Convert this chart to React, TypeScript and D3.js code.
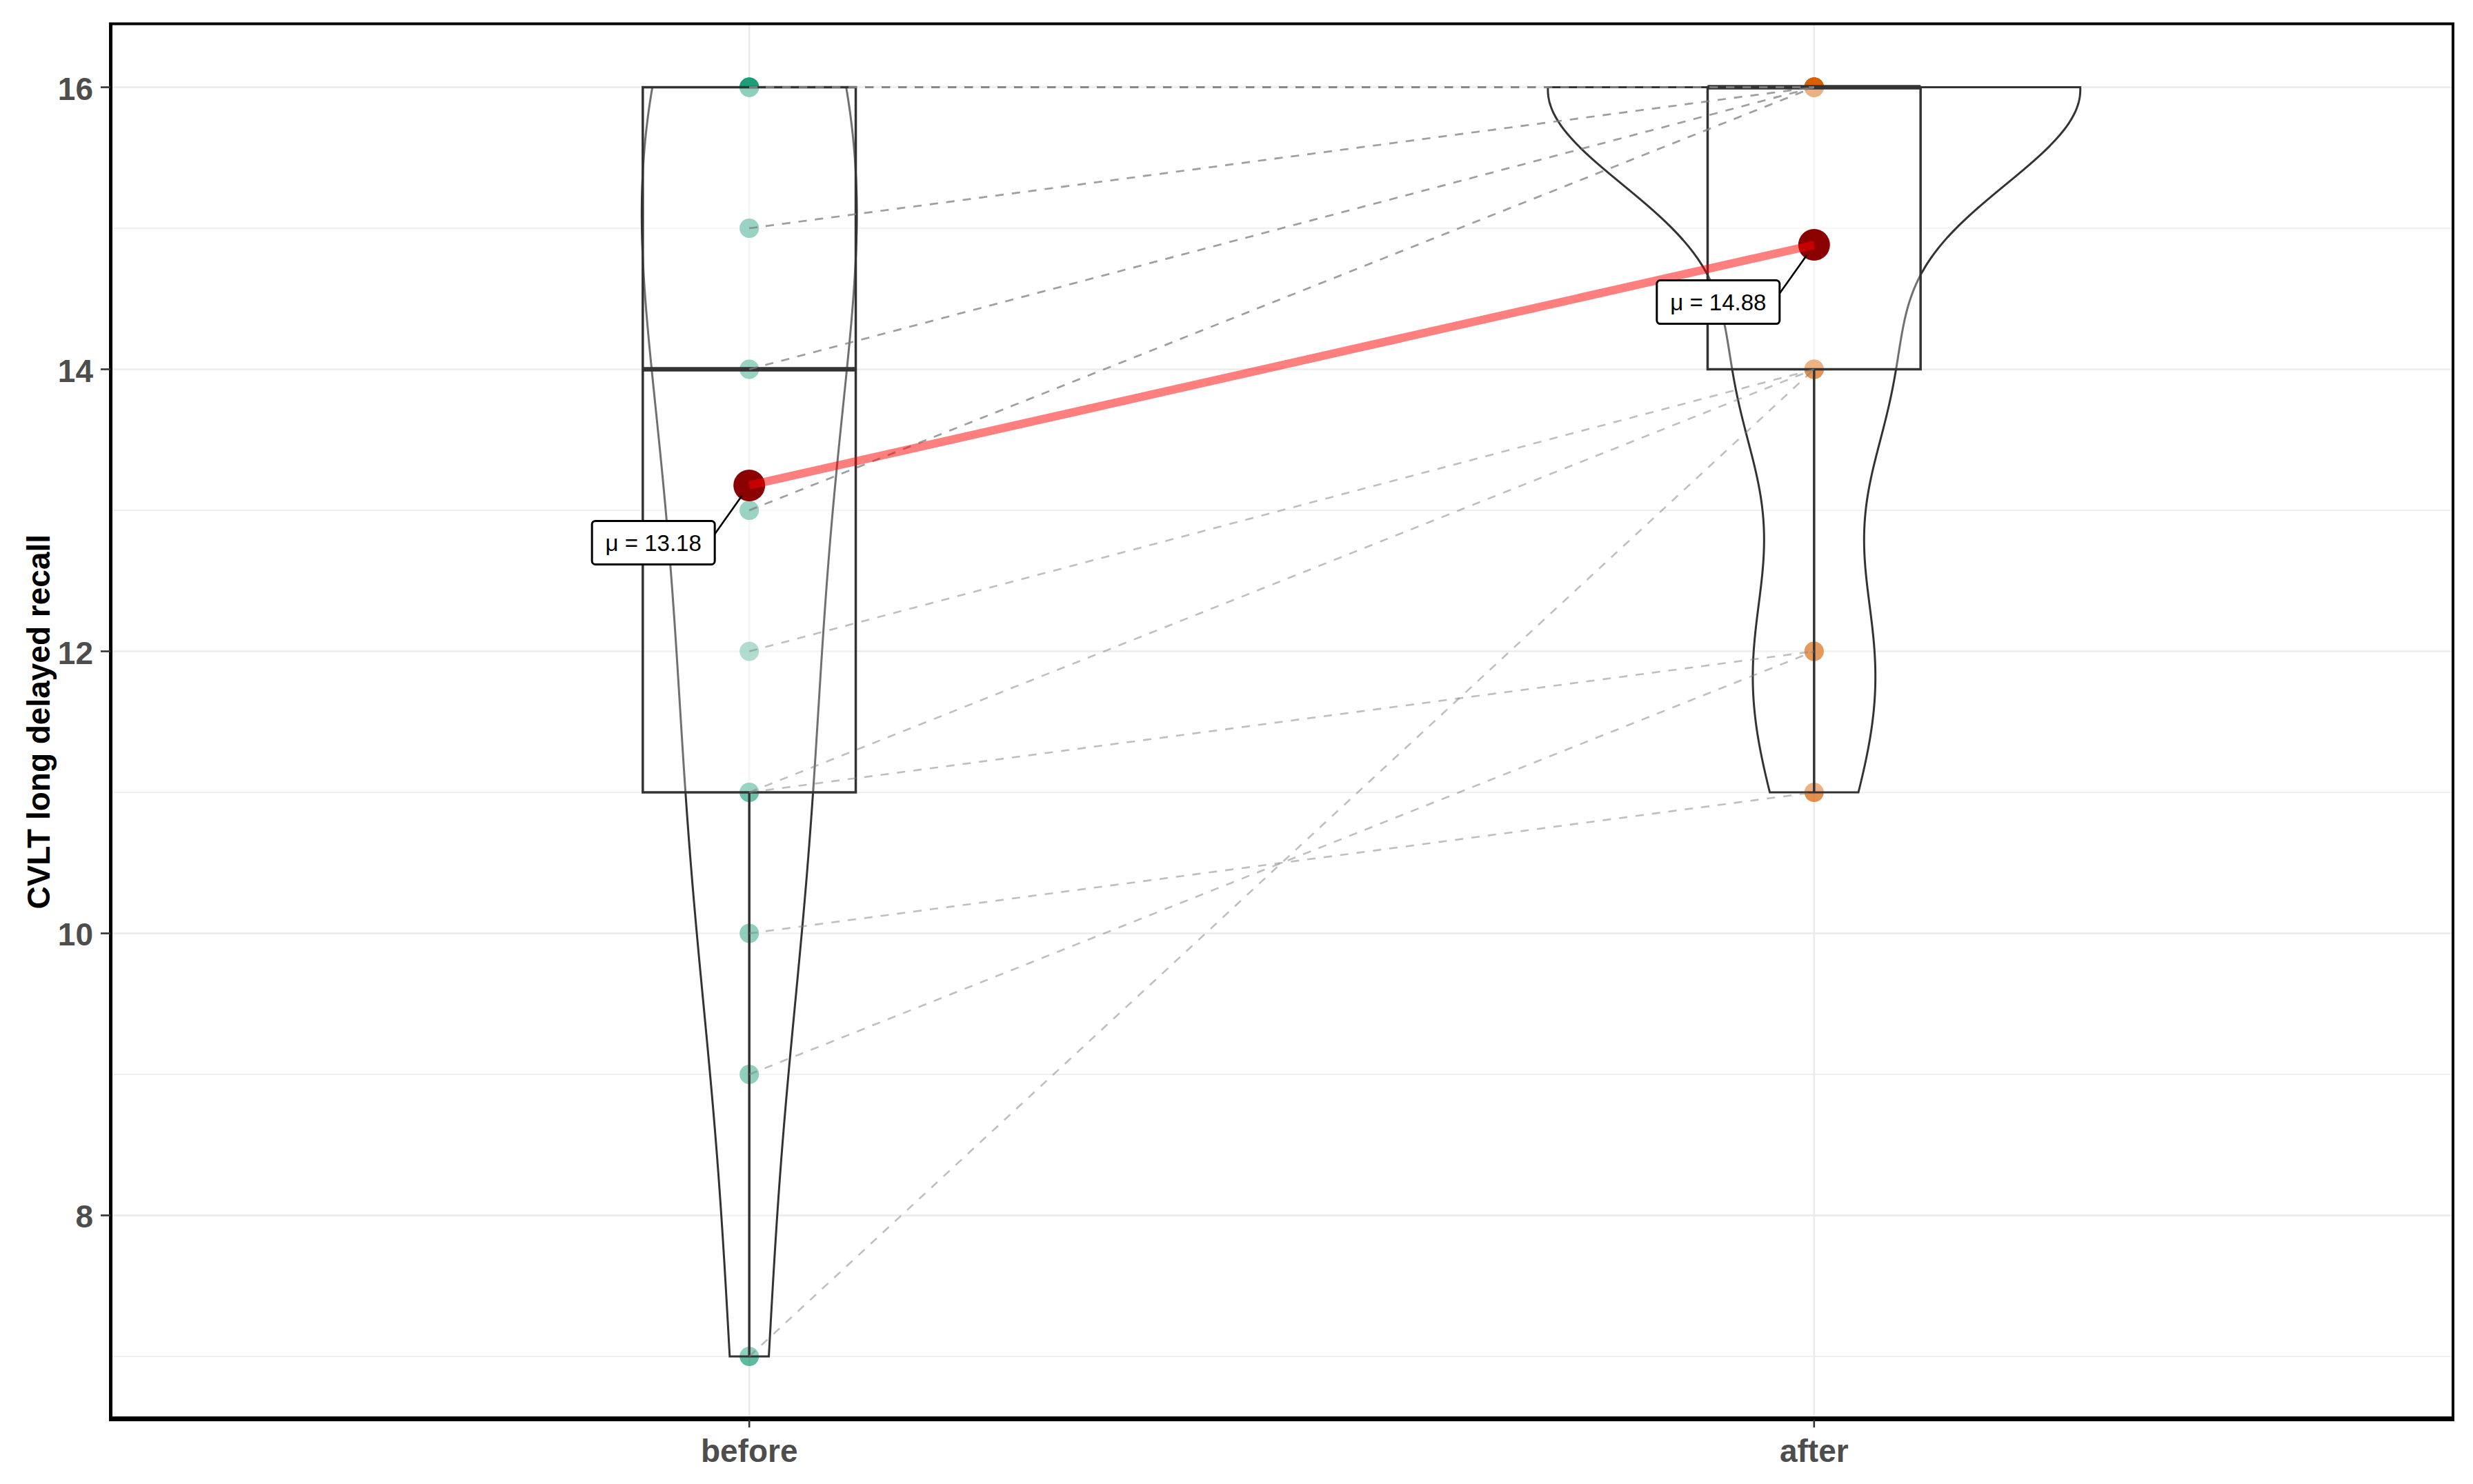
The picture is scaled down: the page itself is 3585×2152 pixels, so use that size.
import React from "react";
import * as d3 from "d3";

// paired scores, before[i] -> after[i]
const groups = ["before", "after"];
const beforeScores = [16, 16, 16, 16, 16, 15, 15, 14, 14, 13, 13, 12, 11, 11, 10, 9, 7];
const afterScores = [16, 16, 16, 16, 16, 16, 16, 16, 16, 16, 16, 14, 14, 12, 11, 12, 14];
const yTicks = [8, 10, 12, 14, 16];
const yMinorTicks = [7, 9, 11, 13, 15];
const yTitle = "CVLT long delayed recall";
const groupColors = ["#1B9E77", "#D95F02"];

const W = 3585;
const H = 2152;
const panel = { left: 160, right: 3556, top: 34.5, bottom: 2059 };
const font = "'Liberation Sans', Arial, sans-serif";

const x = d3.scaleLinear().domain([0.4, 2.6]).range([panel.left, panel.right]);
const y = d3.scaleLinear().domain([6.55, 16.45]).range([panel.bottom, panel.top]);
const unit = x(2) - x(1);

// gaussian kde, bw.nrd0 like R
const nrd0 = (v) => {
  const s = [...v].sort(d3.ascending);
  const iqr = d3.quantileSorted(s, 0.75) - d3.quantileSorted(s, 0.25);
  const lo = Math.min(d3.deviation(s), iqr / 1.34);
  return 0.9 * lo * Math.pow(s.length, -0.2);
};
const kde = (v) => {
  const bw = nrd0(v);
  const [mn, mx] = d3.extent(v);
  return d3.range(512).map((i) => {
    const t = mn + ((mx - mn) * i) / 511;
    const dens = d3.mean(v, (d) => Math.exp(-0.5 * ((t - d) / bw) ** 2) / Math.sqrt(2 * Math.PI)) / bw;
    return { t, dens };
  });
};

const series = [beforeScores, afterScores];
const densities = series.map(kde);
const maxDens = d3.max(densities.flat(), (d) => d.dens);

const boxStats = (v) => {
  const s = [...v].sort(d3.ascending);
  const q1 = d3.quantileSorted(s, 0.25);
  const med = d3.quantileSorted(s, 0.5);
  const q3 = d3.quantileSorted(s, 0.75);
  const iqr = q3 - q1;
  const lo = d3.min(s.filter((d) => d >= q1 - 1.5 * iqr));
  const hi = d3.max(s.filter((d) => d <= q3 + 1.5 * iqr));
  return { q1, med, q3, lo, hi };
};

export default function App() {
  const ink = "#333333";
  const means = series.map((v) => d3.mean(v));

  return (
    <svg width={W} height={H} style={{ position: "absolute", left: 0, top: 0, background: "#fff" }}>
      <rect x={0} y={0} width={W} height={H} fill="#fff" />

      {/* grid */}
      {yMinorTicks.map((t) => (
        <line key={"mi" + t} x1={panel.left} x2={panel.right} y1={y(t)} y2={y(t)} stroke="#EBEBEB" strokeWidth={1.6} />
      ))}
      {yTicks.map((t) => (
        <line key={"ma" + t} x1={panel.left} x2={panel.right} y1={y(t)} y2={y(t)} stroke="#EBEBEB" strokeWidth={2.6} />
      ))}
      {groups.map((g, i) => (
        <line key={"gx" + g} x1={x(i + 1)} x2={x(i + 1)} y1={panel.top} y2={panel.bottom} stroke="#EBEBEB" strokeWidth={2.6} />
      ))}

      {/* raw points */}
      {series.map((v, gi) =>
        v.map((d, i) => (
          <circle key={`p${gi}-${i}`} cx={x(gi + 1)} cy={y(d)} r={14} fill={groupColors[gi]} fillOpacity={0.7} />
        ))
      )}

      {/* violins */}
      {densities.map((dens, gi) => {
        const cx = x(gi + 1);
        const area = d3
          .area()
          .y((d) => y(d.t))
          .x0((d) => cx - (d.dens / maxDens) * 0.25 * unit)
          .x1((d) => cx + (d.dens / maxDens) * 0.25 * unit);
        return (
          <path key={"v" + gi} d={area(dens) + "Z"} fill="#fff" fillOpacity={0.3} stroke={ink} strokeWidth={3} />
        );
      })}

      {/* boxplots */}
      {series.map((v, gi) => {
        const b = boxStats(v);
        const cx = x(gi + 1);
        const hw = 0.1 * unit;
        return (
          <g key={"b" + gi}>
            <line x1={cx} x2={cx} y1={y(b.q1)} y2={y(b.lo)} stroke={ink} strokeWidth={3.5} />
            <line x1={cx} x2={cx} y1={y(b.q3)} y2={y(b.hi)} stroke={ink} strokeWidth={3.5} />
            <rect x={cx - hw} y={y(b.q3)} width={2 * hw} height={y(b.q1) - y(b.q3)} fill="#fff" fillOpacity={0.3} stroke={ink} strokeWidth={3.5} />
            <line x1={cx - hw} x2={cx + hw} y1={y(b.med)} y2={y(b.med)} stroke={ink} strokeWidth={6.5} />
          </g>
        );
      })}

      {/* paired lines */}
      {beforeScores.map((d, i) => (
        <line
          key={"pl" + i}
          x1={x(1)}
          y1={y(d)}
          x2={x(2)}
          y2={y(afterScores[i])}
          stroke="#808080"
          strokeOpacity={0.5}
          strokeWidth={2.6}
          strokeDasharray="12 12"
        />
      ))}

      {/* means */}
      {means.map((m, gi) => (
        <circle key={"m" + gi} cx={x(gi + 1)} cy={y(m)} r={23} fill="#8B0000" />
      ))}
      <line x1={x(1)} y1={y(means[0])} x2={x(2)} y2={y(means[1])} stroke="red" strokeOpacity={0.5} strokeWidth={12} />

      {means.map((m, gi) => {
        const px = x(gi + 1);
        const py = y(m);
        const lw = 178;
        const lh = 63;
        const lx = px - 139 - lw / 2;
        const ly = py + 83 - lh / 2;
        const sx = lx + lw;
        const sy = ly + 19;
        const dx = px - sx;
        const dy = py - sy;
        const len = Math.hypot(dx, dy);
        const k = (len - 18) / len;
        return (
          <g key={"lab" + gi}>
            <line x1={sx} y1={sy} x2={sx + dx * k} y2={sy + dy * k} stroke="#000" strokeWidth={2.6} />
            <rect x={lx} y={ly} width={lw} height={lh} rx={5} fill="#fff" stroke="#000" strokeWidth={3} />
            <text x={lx + lw / 2} y={ly + lh / 2 + 12} textAnchor="middle" fontFamily={font} fontSize={33} fill="#000">
              {"\u03bc = " + d3.format(".2f")(m)}
            </text>
          </g>
        );
      })}

      {/* panel border and axes */}
      <rect x={panel.left} y={panel.top} width={panel.right - panel.left} height={panel.bottom - panel.top} fill="none" stroke="#000" strokeWidth={4} />
      <line x1={panel.left - 2} x2={panel.right + 2} y1={panel.bottom - 1.5} y2={panel.bottom - 1.5} stroke="#000" strokeWidth={7} />
      <line x1={panel.left + 1} x2={panel.left + 1} y1={panel.top} y2={panel.bottom} stroke="#000" strokeWidth={4} />

      {yTicks.map((t) => (
        <g key={"yt" + t}>
          <line x1={146} x2={panel.left} y1={y(t)} y2={y(t)} stroke={ink} strokeWidth={2.6} />
          <text x={135} y={y(t) + 18} textAnchor="end" fontFamily={font} fontWeight="bold" fontSize={46} fill="#4D4D4D">
            {t}
          </text>
        </g>
      ))}
      {groups.map((g, i) => (
        <g key={"xt" + g}>
          <line x1={x(i + 1)} x2={x(i + 1)} y1={panel.bottom} y2={panel.bottom + 11} stroke={ink} strokeWidth={2.6} />
          <text x={x(i + 1)} y={2120} textAnchor="middle" fontFamily={font} fontWeight="bold" fontSize={46} fill="#4D4D4D">
            {g}
          </text>
        </g>
      ))}
      <text
        transform={`translate(56,${(panel.top + panel.bottom) / 2}) rotate(-90)`}
        textAnchor="middle"
        dominantBaseline="central"
        fontFamily={font}
        fontWeight="bold"
        fontSize={46}
        fill="#000"
      >
        {yTitle}
      </text>
    </svg>
  );
}
